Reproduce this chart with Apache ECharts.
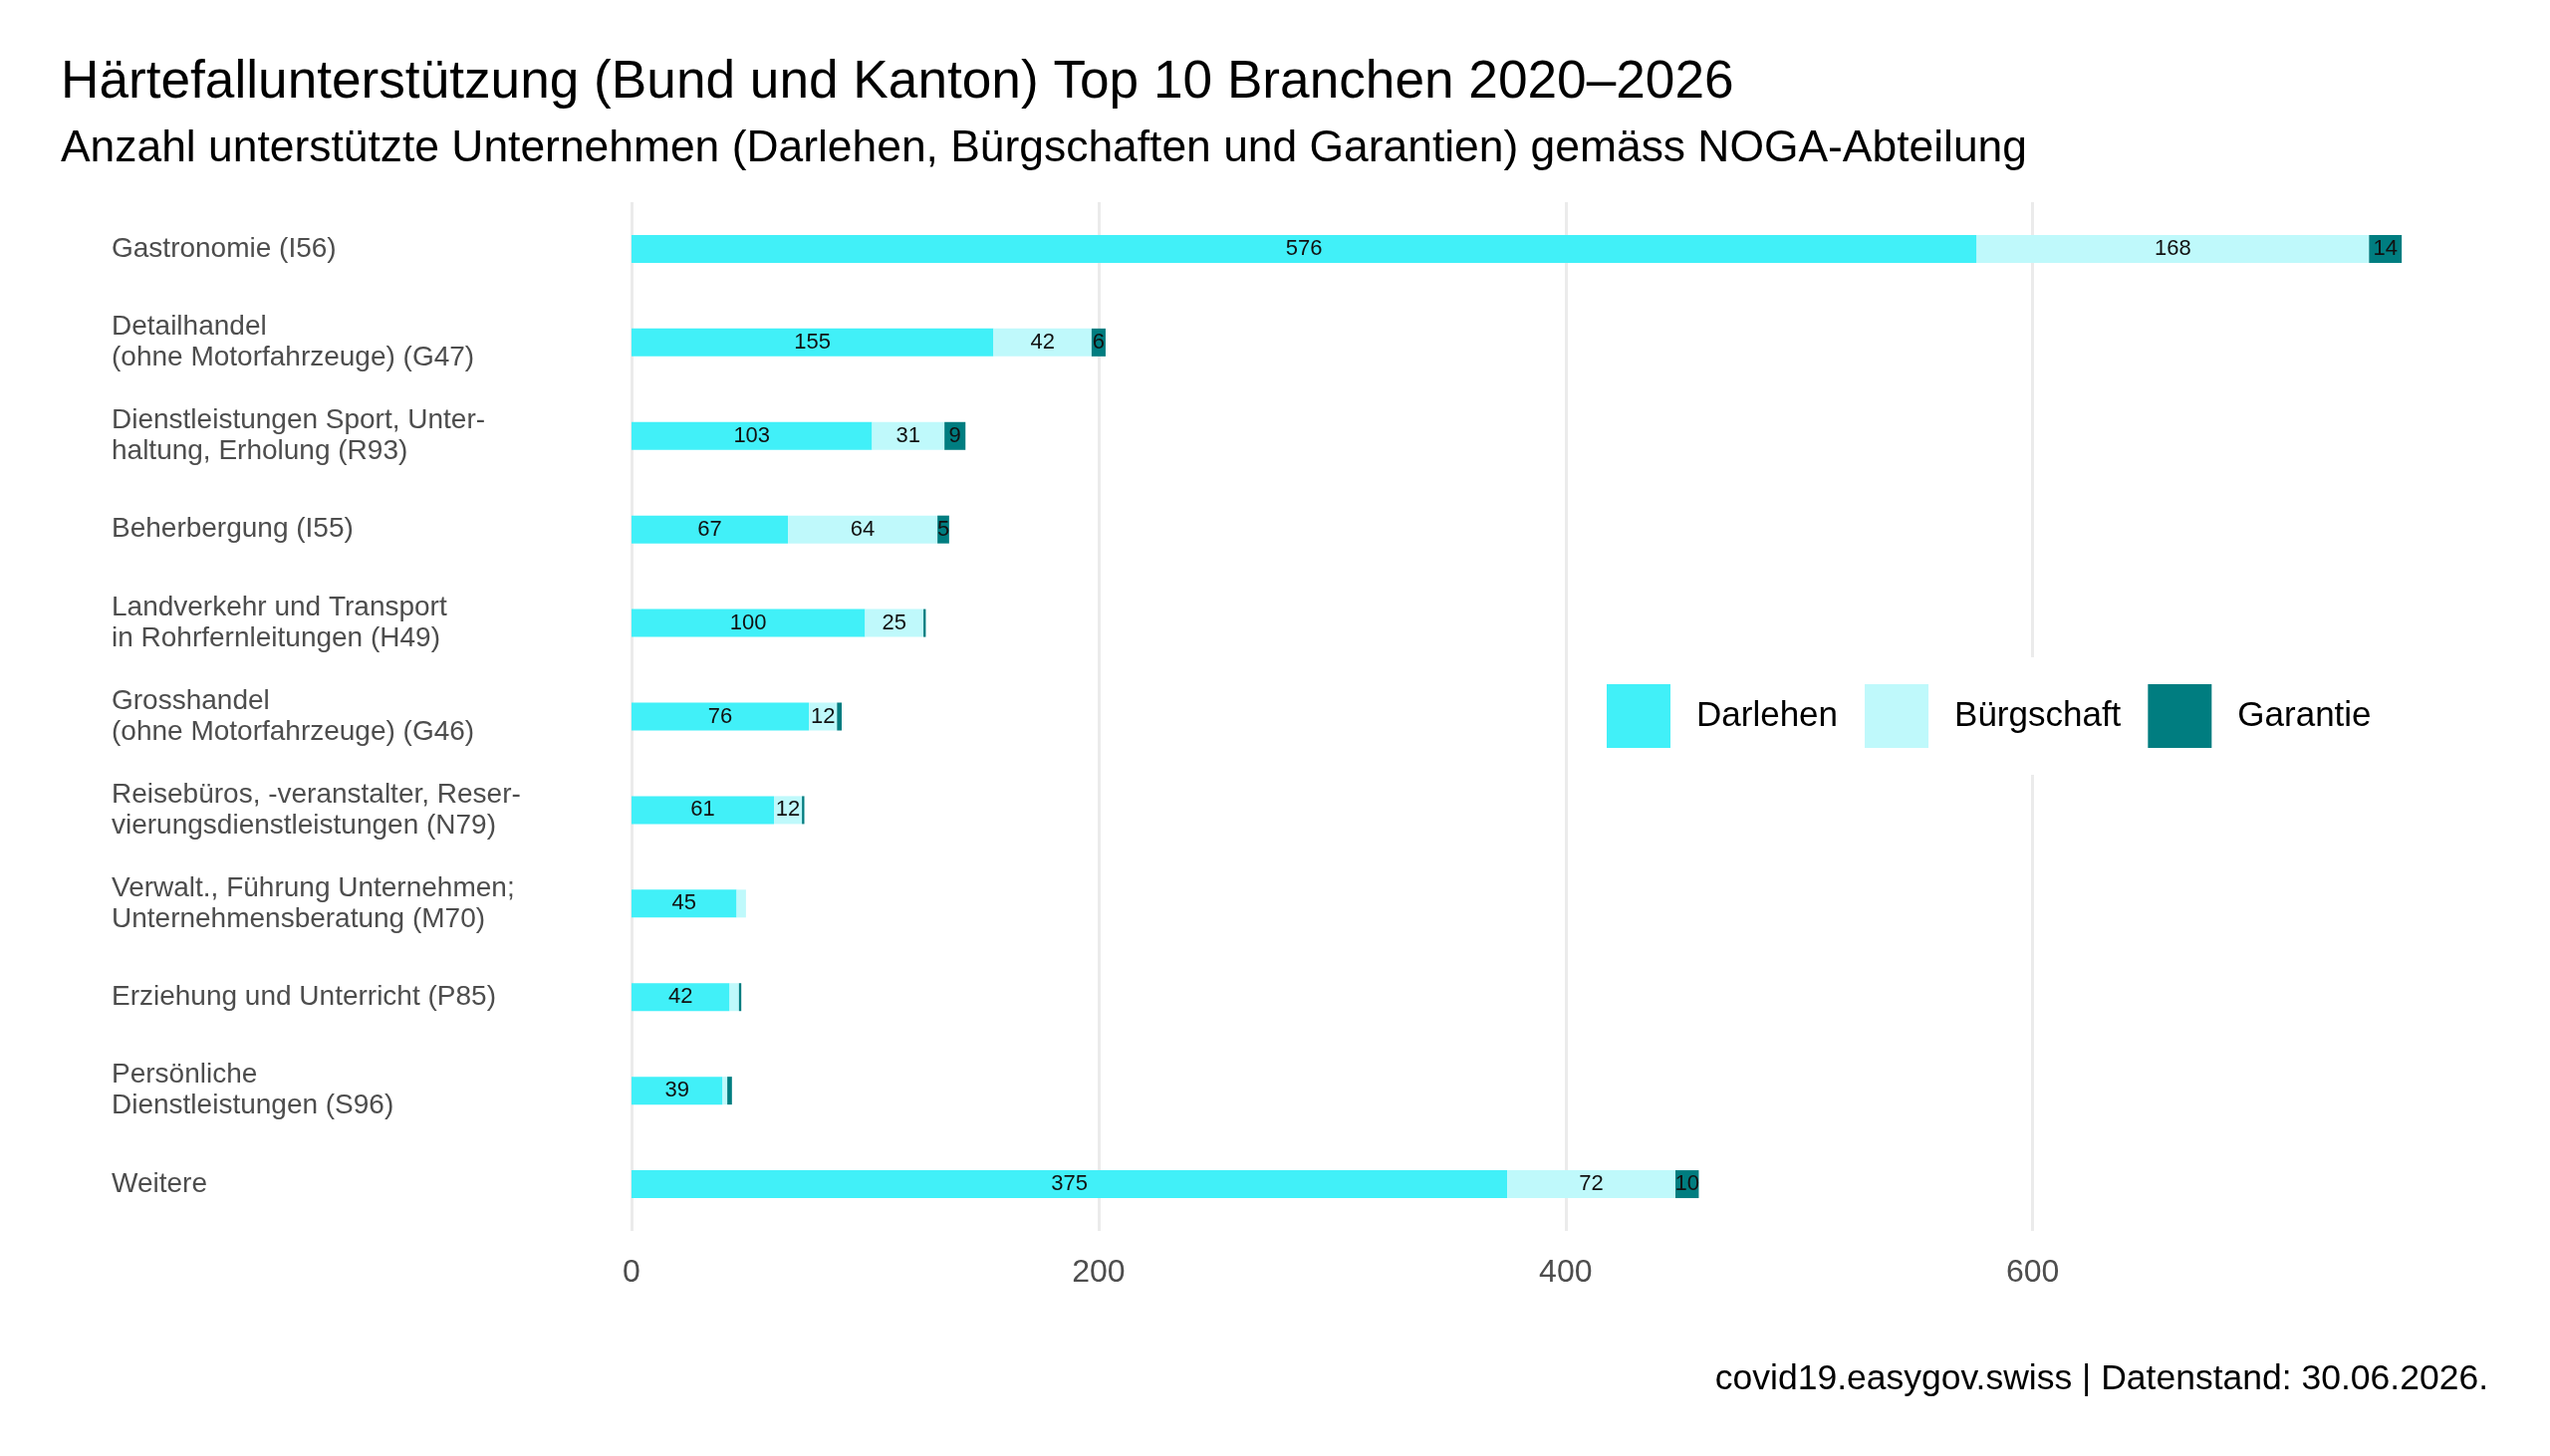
<!DOCTYPE html>
<html>
<head>
<meta charset="utf-8">
<script src="https://cdn.jsdelivr.net/npm/echarts@6/dist/echarts.min.js"></script>
<style>
  html, body { margin: 0; padding: 0; background: #fff; }
  #main { width: 2560px; height: 1462px; }
</style>
</head>
<body>
<div id="main"></div>
<script>
// Branchen (von oben nach unten)
var branchen = [
  "Gastronomie (I56)",
  "Detailhandel\n(ohne Motorfahrzeuge) (G47)",
  "Dienstleistungen Sport, Unter-\nhaltung, Erholung (R93)",
  "Beherbergung (I55)",
  "Landverkehr und Transport\nin Rohrfernleitungen (H49)",
  "Grosshandel\n(ohne Motorfahrzeuge) (G46)",
  "Reisebüros, -veranstalter, Reser-\nvierungsdienstleistungen (N79)",
  "Verwalt., Führung Unternehmen;\nUnternehmensberatung (M70)",
  "Erziehung und Unterricht (P85)",
  "Persönliche\nDienstleistungen (S96)",
  "Weitere"
];
var darlehen    = [576, 155, 103, 67, 100, 76, 61, 45, 42, 39, 375];
var buergschaft = [168, 42, 31, 64, 25, 12, 12, 4, 4, 2, 72];
var garantie    = [14, 6, 9, 5, 1, 2, 1, 0, 1, 2, 10];
var xTicks = [0, 200, 400, 600];

var font = "'Liberation Sans', Arial, Helvetica, sans-serif";
var farben = { darlehen: "#41F0F8", buergschaft: "#BFF9FB", garantie: "#007D80" };

var chart = echarts.init(document.getElementById("main"));

function segLabel() {
  return {
    show: true,
    position: "inside",
    color: "#111",
    fontFamily: font,
    fontSize: 22,
    formatter: function(p) {
      return p.value >= 5 ? p.value : "";
    }
  };
}

var option = {
  backgroundColor: "#fff",
  animation: false,
  title: [
    {
      text: "Härtefallunterstützung (Bund und Kanton) Top 10 Branchen 2020–2026",
      left: 61,
      top: 52,
      padding: 0,
      textStyle: { fontFamily: font, fontSize: 53.2, fontWeight: "normal", color: "#000", lineHeight: 62 }
    },
    {
      text: "Anzahl unterstützte Unternehmen (Darlehen, Bürgschaften und Garantien) gemäss NOGA-Abteilung",
      left: 61,
      top: 125,
      padding: 0,
      textStyle: { fontFamily: font, fontSize: 44.4, fontWeight: "normal", color: "#000", lineHeight: 50 }
    },
    {
      text: "covid19.easygov.swiss | Datenstand: 30.06.2026.",
      right: 62,
      top: 1365,
      padding: 0,
      textStyle: { fontFamily: font, fontSize: 35.5, fontWeight: "normal", color: "#000", lineHeight: 40 }
    }
  ],
  legend: {
    data: ["Darlehen", "Bürgschaft", "Garantie"],
    left: 1593,
    top: 660,
    orient: "horizontal",
    padding: [27, 20, 27, 20],
    backgroundColor: "#fff",
    itemWidth: 64,
    itemHeight: 64,
    itemGap: 27,
    icon: "rect",
    textStyle: { fontFamily: font, fontSize: 35, color: "#000", padding: [0, 0, 0, 21] }
  },
  grid: {
    left: 634,
    right: 2560 - 2500,
    top: 203,
    bottom: 1462 - 1236,
    containLabel: false
  },
  xAxis: {
    type: "value",
    min: 0,
    max: 795.9,
    interval: 200,
    axisLine: { show: false },
    axisTick: { show: false },
    splitLine: { show: true, showMaxLine: false, lineStyle: { color: "#EBEBEB", width: 3 } },
    axisLabel: {
      showMaxLabel: false,
      margin: 26,
      color: "#4D4D4D",
      fontFamily: font,
      fontSize: 32,
      formatter: function(v) {
        return xTicks.indexOf(v) >= 0 ? String(v) : "";
      }
    }
  },
  yAxis: {
    type: "category",
    data: branchen,
    inverse: true,
    axisLine: { show: false },
    axisTick: { show: false },
    splitLine: { show: false },
    axisLabel: {
      align: "left",
      margin: 634 - 112,
      color: "#4D4D4D",
      fontFamily: font,
      fontSize: 28,
      lineHeight: 31
    }
  },
  series: [
    {
      name: "Darlehen",
      type: "bar",
      stack: "total",
      barWidth: 28,
      itemStyle: { color: farben.darlehen },
      label: segLabel(),
      data: darlehen
    },
    {
      name: "Bürgschaft",
      type: "bar",
      stack: "total",
      barWidth: 28,
      itemStyle: { color: farben.buergschaft },
      label: segLabel(),
      data: buergschaft
    },
    {
      name: "Garantie",
      type: "bar",
      stack: "total",
      barWidth: 28,
      itemStyle: { color: farben.garantie },
      label: segLabel(),
      data: garantie
    }
  ]
};

chart.setOption(option);
</script>
</body>
</html>
